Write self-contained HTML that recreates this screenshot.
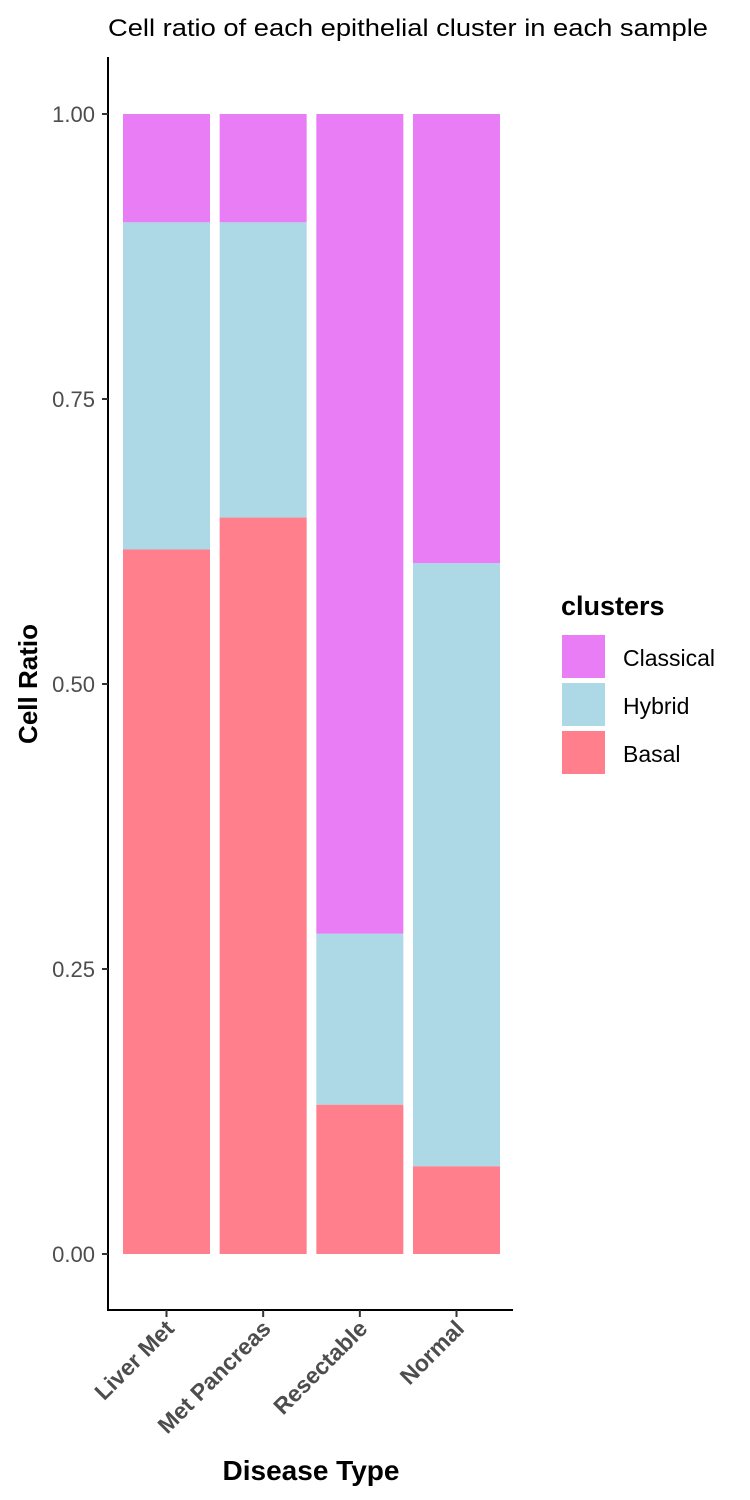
<!DOCTYPE html>
<html><head><meta charset="utf-8"><style>
body{margin:0;background:#fff;}
svg{display:block;font-family:"Liberation Sans",Arial,sans-serif;}
</style></head><body>
<svg id="chart" width="750" height="1500">
<text x="408" y="36" font-size="24" text-anchor="middle" textLength="600" lengthAdjust="spacingAndGlyphs" fill="#000">Cell ratio of each epithelial cluster in each sample</text>
<g id="bars"></g>
<g id="axes"></g>
<text x="0" y="0" transform="translate(37,684) rotate(-90)" font-size="26" font-weight="bold" text-anchor="middle">Cell Ratio</text>
<text x="311" y="1480" font-size="28" font-weight="bold" text-anchor="middle">Disease Type</text>
<g id="legend">
<text x="561" y="615" font-size="27" font-weight="bold">clusters</text>
</g>
</svg>
<script>
const categories=["Liver Met","Met Pancreas","Resectable","Normal"];
const basal=[0.618,0.646,0.131,0.077];
const hybrid=[0.287,0.259,0.150,0.529];
const classical=[0.095,0.095,0.719,0.394];
const yTicks=[0,0.25,0.5,0.75,1];
const yTickLabels=["0.00","0.25","0.50","0.75","1.00"];
const seriesNames=["Classical","Hybrid","Basal"];
const colors={Basal:"#FF7F8C",Hybrid:"#ADD8E6",Classical:"#E87DF5"};
const NS="http://www.w3.org/2000/svg";
const y=v=>1254-v*1140;
const xc=i=>166.5+i*96.67;
const bw=87;
function mk(tag,attrs,parent){const e=document.createElementNS(NS,tag);for(const k in attrs)e.setAttribute(k,attrs[k]);parent.appendChild(e);return e;}
const bars=document.getElementById('bars');
categories.forEach((c,i)=>{
  const stack=[["Basal",basal[i]],["Hybrid",hybrid[i]],["Classical",classical[i]]];
  let base=0;
  stack.forEach(([n,v])=>{
    const r=mk('rect',{x:xc(i)-bw/2,y:y(base+v),width:bw,height:y(base)-y(base+v),fill:colors[n]},bars);
    
    
    base+=v;
  });
});
const ax=document.getElementById('axes');
mk('line',{x1:108,y1:57,x2:108,y2:1311,stroke:'#000','stroke-width':2},ax);
mk('line',{x1:107,y1:1310,x2:513,y2:1310,stroke:'#000','stroke-width':2},ax);
yTicks.forEach((t,i)=>{
  mk('line',{x1:102,y1:y(t),x2:108,y2:y(t),stroke:'#333','stroke-width':2},ax);
  const tx=mk('text',{x:95,y:y(t)+8,'font-size':22,'text-anchor':'end',fill:'#4d4d4d'},ax);
  tx.textContent=yTickLabels[i];
  
  
});
categories.forEach((c,i)=>{
  mk('line',{x1:xc(i),y1:1310,x2:xc(i),y2:1317,stroke:'#333','stroke-width':2},ax);
  const tx=mk('text',{transform:`translate(${xc(i)+9},1330) rotate(-45)`,'font-size':23,'font-weight':'bold','text-anchor':'end',fill:'#4d4d4d'},ax);
  tx.textContent=c;
  
  
});
const lg=document.getElementById('legend');
seriesNames.forEach((n,i)=>{
  const r=mk('rect',{x:562,y:635+i*48,width:43,height:43,fill:colors[n]},lg);
  
  
  const t=mk('text',{x:623,y:666+i*48,'font-size':23,fill:'#000'},lg);
  t.textContent=n;
  
  
});
</script>
</body></html>
